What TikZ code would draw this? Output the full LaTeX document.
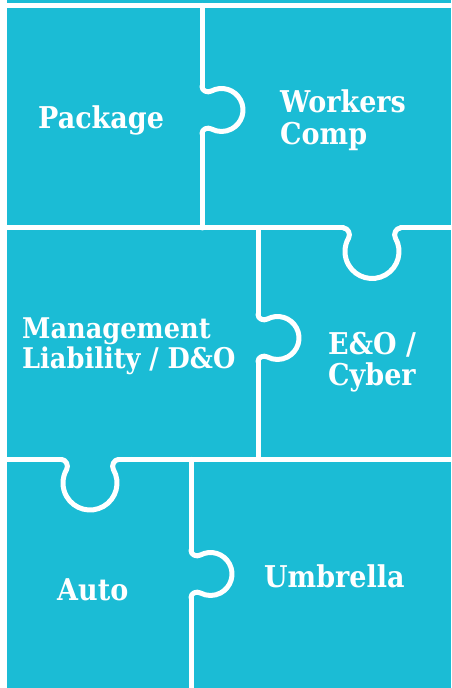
\documentclass[tikz,border=0pt]{standalone}
\usepackage{fontspec}
\newfontfamily\lblfont{DejaVu Serif}[FakeStretch=0.9]
\definecolor{puzzleteal}{RGB}{27,188,213}
\begin{document}
\begin{tikzpicture}[x=1pt,y=1pt,
  cut/.style={draw=white, line width=5pt, line cap=round, line join=round},
  lbl/.style={text=white, font=\lblfont\bfseries\fontsize{30}{32}\selectfont, anchor=base west, inner sep=0pt},
  lblsmall/.style={lbl, font=\lblfont\bfseries\fontsize{28.5}{30}\selectfont},
  pics/tab/.style n args={4}{code={
     \coordinate (-a) at (-#4,0);
     \coordinate (-b) at (#4,0);
     \path[cut] (-a) .. controls +(4.5,0) and +({4.5*sin(#3)},{-4.5*cos(#3)}) .. ([shift={(0,#2)}]180+#3:#1)
        arc[start angle=180+#3, end angle=-#3, radius=#1]
        .. controls +({-4.5*sin(#3)},{-4.5*cos(#3)}) and +(-4.5,0) .. (-b);
  }}
]
\useasboundingbox (0,0) rectangle (451,688);
\fill[puzzleteal] (0,0) rectangle (451,688);
\fill[white] (0,0) rectangle (6.5,688);
% edge coordinates
\coordinate (topL) at (-5,682.5);   \coordinate (topR) at (456,682.5);
\coordinate (r2L) at (-5,460);      \coordinate (r2R) at (456,460);
\coordinate (r3L) at (-5,228.5);    \coordinate (r3R) at (456,228.5);
\coordinate (v1T) at (202,682.5);   \coordinate (v1B) at (202,460);
\coordinate (v2T) at (258,460);     \coordinate (v2B) at (258,228.5);
\coordinate (v3T) at (191,228.5);   \coordinate (v3B) at (191,-5);
% tabs
\pic[rotate=-90] (t1) at (202,578) {tab={21.5}{19.5}{28}{23.5}};
\pic[rotate=180] (t2) at (372,460) {tab={27}{23.5}{30}{28.5}};
\pic[rotate=-90] (t3) at (258,350) {tab={21.5}{19.5}{28}{23.5}};
\pic[rotate=180] (t4) at (90,228.5) {tab={27}{23.5}{30}{28.5}};
\pic[rotate=-90] (t5) at (191,114) {tab={21.5}{19.5}{28}{23.5}};
% cut lines
\draw[cut] (topL) -- (topR);
\draw[cut] (v1T) -- (t1-a);  \draw[cut] (t1-b) -- (v1B);
\draw[cut] (r2L) -- (t2-b);  \draw[cut] (t2-a) -- (r2R);
\draw[cut] (v2T) -- (t3-a);  \draw[cut] (t3-b) -- (v2B);
\draw[cut] (r3L) -- (t4-b);  \draw[cut] (t4-a) -- (r3R);
\draw[cut] (v3T) -- (t5-a);  \draw[cut] (t5-b) -- (v3B);
% labels
\node[lbl] (pkg) at (38,559) {Package};
\node[lbl] (wc1) at (280,575.3) {Workers};
\node[lbl] (wc2) at (280,543.7) {Comp};
\node[lblsmall] (ml1) at (22,349) {Management};
\node[lblsmall] (ml2) at (22,319) {Liability / D\&O};
\node[lbl] (eo1) at (328,333) {E\&O /};
\node[lbl] (eo2) at (328,302) {Cyber};
\node[lbl] (auto) at (57,87) {Auto};
\node[lbl] (umb) at (264,100) {Umbrella};
\end{tikzpicture}
\end{document}
